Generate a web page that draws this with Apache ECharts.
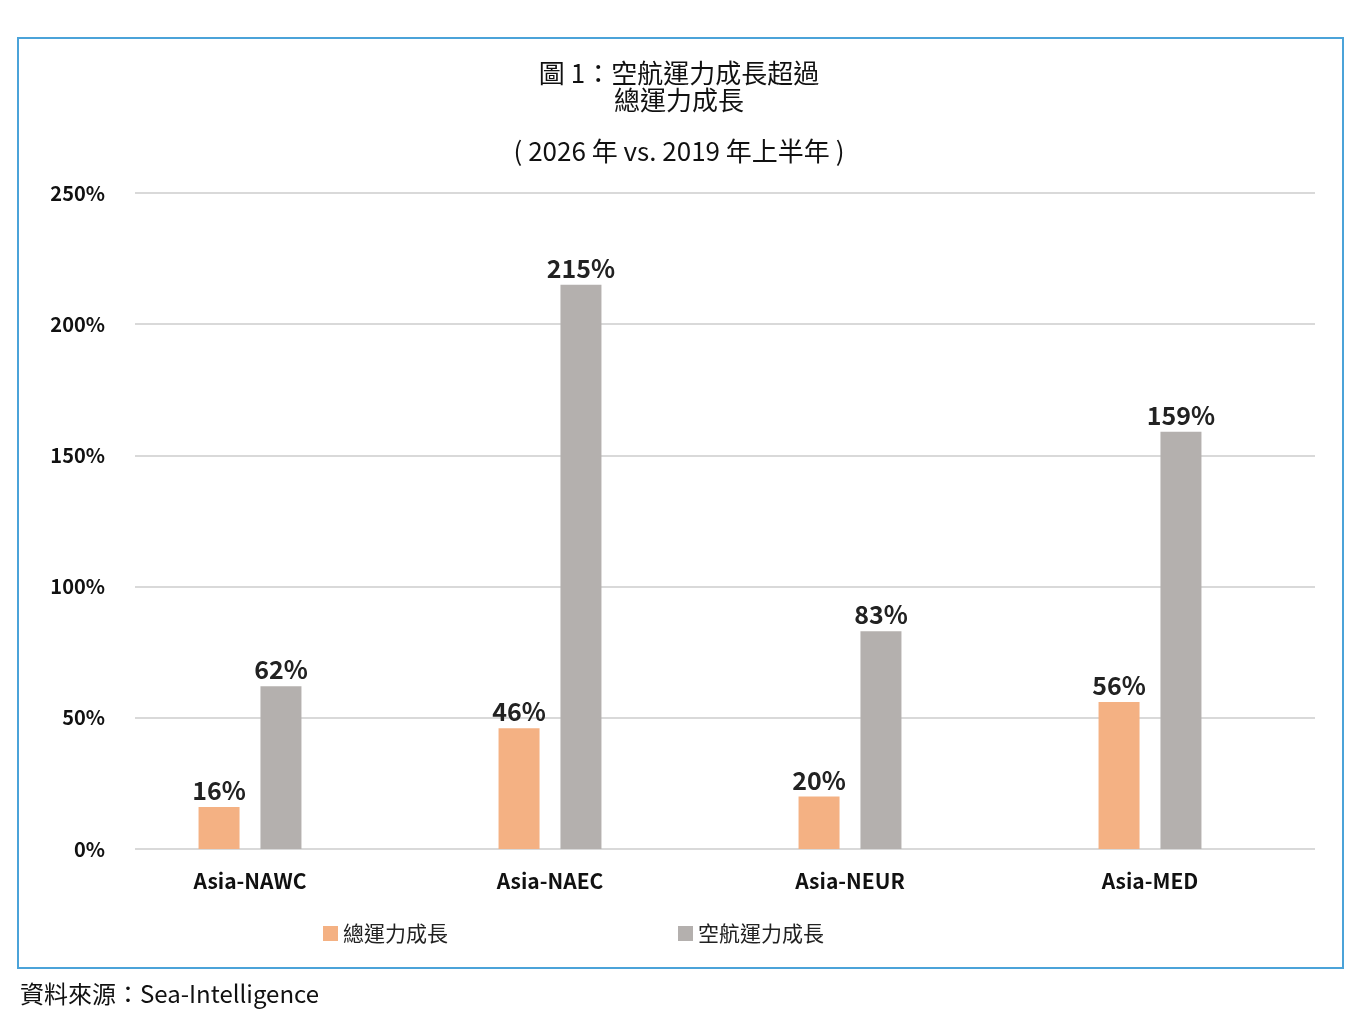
<!DOCTYPE html>
<html><head><meta charset="utf-8">
<script src="https://cdn.jsdelivr.net/npm/echarts@6/dist/echarts.min.js"></script>
<style>html,body{margin:0;padding:0;background:#fff}#main{width:1358px;height:1013px}</style>
</head><body><div id="main"></div>
<script>
const categories = ['Asia-NAWC', 'Asia-NAEC', 'Asia-NEUR', 'Asia-MED'];
const totalGrowth = [16, 46, 20, 56];
const airGrowth = [62, 215, 83, 159];
const seriesNames = ['總運力成長', '空航運力成長'];
const font = '"Noto Sans CJK TC", "Noto Sans", sans-serif';

const chart = echarts.init(document.getElementById('main'));
const labelStyle = {
    show: true, position: 'top', formatter: '{c}%', distance: 4,
    fontFamily: font, fontSize: 25, fontWeight: 'bold', color: '#222'
};
chart.setOption({
    textStyle: {fontFamily: font},
    title: [
        {text: '圖 1：空航運力成長超過\n總運力成長', left: 'center', top: 55,
         textStyle: {fontFamily: font, fontSize: 26, fontWeight: 'normal', color: '#111', lineHeight: 27}},
        {text: '( 2026 年 vs. 2019 年上半年 )', left: 'center', top: 133,
         textStyle: {fontFamily: font, fontSize: 26, fontWeight: 'normal', color: '#111'}}
    ],
    graphic: [
        {type: 'rect', shape: {x: 18, y: 38, width: 1325, height: 930},
         style: {fill: 'none', stroke: '#4ba3d9', lineWidth: 2}},
        {type: 'text', left: 20, top: 982,
         style: {text: '資料來源：Sea-Intelligence', font: '24px ' + font, fill: '#111'}}
    ],
    legend: {
        data: seriesNames, bottom: 64, left: 318, itemGap: 230,
        itemWidth: 15, itemHeight: 15, icon: 'rect',
        textStyle: {fontFamily: font, fontSize: 21, color: '#222'}
    },
    grid: [
        {left: 100, right: 58, top: 193, bottom: 164},
        {left: 135, right: 43, top: 193, bottom: 164}
    ],
    xAxis: [
        {type: 'category', data: categories, gridIndex: 0,
         axisLine: {show: false}, axisTick: {show: false},
         axisLabel: {fontFamily: font, fontSize: 21, color: '#111', fontWeight: 'bold', margin: 22}},
        {type: 'value', gridIndex: 1, show: false, min: 0, max: 1}
    ],
    yAxis: [
        {type: 'value', gridIndex: 0, min: 0, max: 250, interval: 50, show: false},
        {type: 'value', gridIndex: 1, min: 0, max: 250, interval: 50,
         axisLine: {show: false}, axisTick: {show: false},
         axisLabel: {formatter: '{value}%', fontFamily: font, fontSize: 20, fontWeight: 'bold', color: '#111', margin: 30},
         splitLine: {lineStyle: {color: '#d9d9d9', width: 2}}}
    ],
    series: [
        {name: seriesNames[0], type: 'bar', data: totalGrowth, barWidth: 41, barGap: '51%',
         itemStyle: {color: '#f4b183'}, label: labelStyle, z: 3},
        {name: seriesNames[1], type: 'bar', data: airGrowth, barWidth: 41,
         itemStyle: {color: '#b4b0ae'}, label: labelStyle, z: 3}
    ]
});
</script></body></html>
